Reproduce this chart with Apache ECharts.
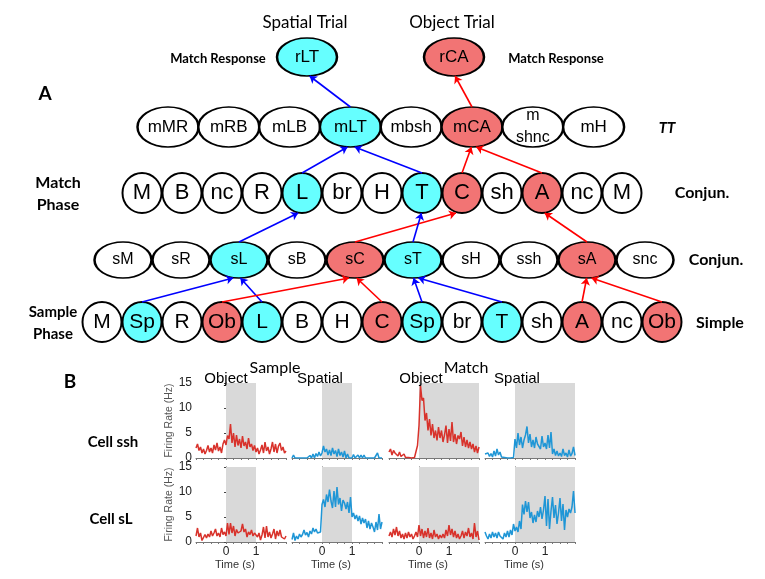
<!DOCTYPE html>
<html>
<head>
<meta charset="utf-8">
<script src="https://cdn.jsdelivr.net/npm/echarts@6/dist/echarts.min.js"></script>
<style>
html,body{margin:0;padding:0;background:#fff;}
#chart{width:765px;height:579px;}
</style>
</head>
<body>
<div id="chart"></div>
<script>
// ---------- DATA : Panel A (network of cells) ----------
// type: 0 = unselective, 1 = spatial (cyan), 2 = object (red)
const respLabels   = ['rLT', 'rCA'];
const respTypes    = [1, 2];
const ttLabels     = ['mMR', 'mRB', 'mLB', 'mLT', 'mbsh', 'mCA', 'm\nshnc', 'mH'];
const ttTypes      = [0, 0, 0, 1, 0, 2, 0, 0];
const matchLabels  = ['M', 'B', 'nc', 'R', 'L', 'br', 'H', 'T', 'C', 'sh', 'A', 'nc', 'M'];
const matchTypes   = [0, 0, 0, 0, 1, 0, 0, 1, 2, 0, 2, 0, 0];
const sconjLabels  = ['sM', 'sR', 'sL', 'sB', 'sC', 'sT', 'sH', 'ssh', 'sA', 'snc'];
const sconjTypes   = [0, 0, 1, 0, 2, 1, 0, 0, 2, 0];
const simpleLabels = ['M', 'Sp', 'R', 'Ob', 'L', 'B', 'H', 'C', 'Sp', 'br', 'T', 'sh', 'A', 'nc', 'Ob'];
const simpleTypes  = [0, 1, 0, 2, 1, 0, 0, 2, 1, 0, 1, 0, 2, 0, 2];
// connections: [fromRow, fromIndex, toRow, toIndex]
const edges = [
  ['simple', 1, 'sconj', 2], ['simple', 4, 'sconj', 2],
  ['simple', 3, 'sconj', 4], ['simple', 7, 'sconj', 4],
  ['simple', 8, 'sconj', 5], ['simple', 10, 'sconj', 5],
  ['simple', 12, 'sconj', 8], ['simple', 14, 'sconj', 8],
  ['sconj', 2, 'match', 4], ['sconj', 4, 'match', 8],
  ['sconj', 5, 'match', 7], ['sconj', 8, 'match', 10],
  ['match', 4, 'tt', 3], ['match', 7, 'tt', 3],
  ['match', 8, 'tt', 5], ['match', 10, 'tt', 5],
  ['tt', 3, 'resp', 0], ['tt', 5, 'resp', 1]
];

// ---------- DATA : Panel B (firing rates, Hz; bins of 0.05 s from -1 to 2 s) ----------
const sshSampleObject = [2.0,2.8,1.5,2.2,1.0,1.8,0.8,1.5,2.5,1.2,2.0,1.0,2.6,1.6,3.0,1.4,2.2,1.0,2.8,3.6,
  2.6,4.5,3.8,6.8,3.0,5.0,2.2,4.6,2.5,3.8,2.0,4.4,2.4,3.2,1.8,4.0,2.2,2.8,1.5,2.5,
  1.2,2.0,0.8,1.6,2.6,1.0,3.2,1.4,2.2,0.8,1.8,3.2,1.2,2.8,1.0,2.4,3.0,1.5,2.2,1.0,1.4];
const sshSampleSpatial = [0,0.6,0,0,0,0,0,0,0,0,0,0,0.5,0,0.8,0,0.9,0.3,1.2,0.4,
  1.0,2.4,1.2,1.8,0.6,1.6,0.5,2.0,0.8,1.5,0.3,1.8,0.5,1.2,0.2,1.4,0,0.8,0,0,
  0,0.7,0,0,0.6,0,0.6,0,0.6,0,0,0,0,0,0,0,0,1.0,0,0,0];
const sshMatchObject = [1.2,1.8,0.6,1.5,1.0,1.4,0.4,1.2,0.3,0.2,0.8,0.1,0.4,0.1,0.3,0.0,0.3,0.1,0.5,2.5,
  6.5,14.5,11.5,12.0,7.5,9.0,5.5,7.8,4.5,6.8,4.0,5.5,3.5,6.2,4.0,5.5,3.2,4.6,6.5,3.0,
  5.8,3.4,7.2,3.2,4.8,2.8,4.5,3.8,5.2,2.4,4.2,2.2,3.6,2.0,3.2,1.8,2.8,1.2,2.4,1.0,2.2];
const sshMatchSpatial = [0.8,0.4,1.0,0.3,0.9,0.2,1.4,0.4,1.8,0.6,1.2,0.2,0.6,0.1,0.3,0,0.2,0,0.3,0.1,
  3.8,2.0,5.0,2.6,4.2,2.0,3.6,4.6,6.3,3.0,4.8,2.2,3.6,2.0,4.2,2.8,3.2,1.8,4.4,2.2,
  3.0,1.8,4.6,2.0,5.2,0.8,1.8,0.5,1.4,0.4,1.0,0.3,1.8,0.5,1.0,0.2,1.6,0.4,0.9,2.2,0.5];
const sLSampleObject = [1.2,2.8,1.0,1.8,0.3,0.6,1.5,0.8,1.6,1.0,2.2,1.2,1.8,2.6,1.2,1.8,1.0,2.8,1.5,2.0,
  1.2,3.8,1.5,3.8,1.8,3.2,1.2,2.5,1.8,1.4,2.2,3.6,2.0,2.6,1.0,2.0,1.5,2.4,1.2,1.8,
  1.6,1.0,1.8,0.4,1.4,3.0,0.8,3.2,1.0,2.0,0.8,1.6,2.6,0.6,2.2,1.2,2.4,1.0,1.4,0.6,1.2];
const sLSampleSpatial = [0.5,1.8,0.3,1.2,0.6,1.6,1.0,1.5,2.4,1.4,1.9,1.0,2.2,1.6,2.8,2.0,2.6,1.8,2.2,2.0,
  7.5,8.5,7.0,9.5,8.0,10.5,8.2,6.8,10.2,7.0,11.0,7.5,8.8,6.2,8.4,7.8,6.6,8.0,5.8,9.0,
  5.0,5.8,4.6,5.4,4.2,5.2,3.6,4.8,3.8,4.6,2.8,4.2,2.6,3.8,3.0,2.0,4.0,2.4,5.6,2.6,4.0];
const sLMatchObject = [1.2,2.0,1.0,2.6,1.4,3.0,1.2,2.2,0.8,1.6,0.6,1.8,0.8,2.0,1.0,1.6,0.6,1.2,2.0,1.0,
  3.4,1.2,2.6,0.8,2.2,1.0,2.8,0.8,1.8,0.6,2.4,1.0,1.6,0.6,1.4,0.8,1.6,0.8,2.4,1.2,
  3.4,1.4,2.6,1.0,2.2,0.8,1.6,0.6,1.2,2.2,0.8,2.0,1.2,2.8,1.0,1.8,0.6,3.8,1.0,2.2,0.4];
const sLMatchSpatial = [2.0,1.2,0.6,1.6,0.8,2.0,1.0,1.8,0.8,2.0,1.2,1.6,0.6,1.8,1.0,2.2,1.0,2.4,1.4,3.6,
  2.2,3.0,2.0,4.2,2.6,7.5,5.5,8.2,6.0,8.0,4.8,6.0,3.8,5.4,4.0,6.2,5.0,7.0,4.6,6.4,
  9.2,3.2,8.6,2.6,6.2,9.0,4.8,7.4,3.6,5.8,8.8,4.2,7.6,2.4,6.4,5.0,6.6,5.8,7.0,10.2,5.8];
const sampleWindow = [0, 1];   // shaded stimulus period, s
const matchWindow  = [0, 2];
const timeStart = -1, timeEnd = 2, binWidth = 0.05;
const yTicks = [0, 5, 10, 15];
const xTickLabels = [0, 1];

// ---------- LAYOUT (positions / sizes / styles) ----------
const LAYOUT = {
  resp:   { y: 57,  xs: [307, 454], w: 60, h: 38, fs: 17, labels: respLabels,   types: respTypes },
  tt:     { y: 127, x0: 168, dx: 60.8, w: 61, h: 40, fs: 17, labels: ttLabels,     types: ttTypes },
  match:  { y: 193, x0: 142, dx: 40,   w: 39, h: 40, fs: 22, labels: matchLabels,  types: matchTypes },
  sconj:  { y: 260, x0: 123, dx: 58,   w: 57, h: 36, fs: 16, labels: sconjLabels,  types: sconjTypes },
  simple: { y: 322, x0: 102, dx: 40,   w: 39, h: 40, fs: 21, labels: simpleLabels, types: simpleTypes }
};
const typeColors = ['#ffffff', '#66ffff', '#f27474'];
const edgeColors = ['#000000', '#0000ff', '#ff0000'];
const RED = '#d8322b', BLUE = '#1f96d6', SHADE = '#d9d9d9';
const NODE_FONT = '"Liberation Sans Narrow", "Liberation Sans", Arial, sans-serif';

function nodePos(rowKey, i) {
  const r = LAYOUT[rowKey];
  return r.xs ? [r.xs[i], r.y] : [r.x0 + i * r.dx, r.y];
}

const series = [];
// nodes
Object.keys(LAYOUT).forEach(function (key) {
  const r = LAYOUT[key];
  series.push({
    type: 'scatter', xAxisIndex: 0, yAxisIndex: 0, z: 3,
    symbol: 'circle', silent: true,
    data: r.labels.map(function (lab, i) {
      return {
        name: lab, value: nodePos(key, i), symbolSize: [r.w, r.h],
        itemStyle: { color: typeColors[r.types[i]], borderColor: '#000', borderWidth: 2, opacity: 1 },
        label: lab.indexOf('\n') >= 0 ? { fontSize: 16, lineHeight: 22, padding: [4, 0, 0, 0] } : {}
      };
    }),
    label: {
      show: true, position: 'inside', formatter: '{b}', color: '#000',
      fontFamily: NODE_FONT, fontSize: r.fs, lineHeight: r.fs + 2
    }
  });
});
// arrows
series.push({
  type: 'lines', coordinateSystem: 'cartesian2d', xAxisIndex: 0, yAxisIndex: 0, z: 4,
  symbol: ['none', 'arrow'], symbolSize: 7, silent: true,
  data: edges.map(function (e) {
    const s = nodePos(e[0], e[1]), t = nodePos(e[2], e[3]);
    const sr = LAYOUT[e[0]], tr = LAYOUT[e[2]];
    const off = Math.max(-6, Math.min(6, (s[0] - t[0]) * 0.06));
    const col = edgeColors[sr.types[e[1]]];
    return {
      coords: [[s[0], s[1] - sr.h / 2], [t[0] + off, t[1] + tr.h / 2]],
      lineStyle: { color: col, width: 1.6, opacity: 1 }
    };
  })
});

// ---------- Panel B ----------
const times = [];
for (let i = 0; Math.round((timeStart + i * binWidth) * 100) <= timeEnd * 100; i++) {
  times.push(Math.round((timeStart + i * binWidth) * 100) / 100);
}
const panels = [
  { vals: sshSampleObject, color: RED,  win: sampleWindow, col: 0, row: 0 },
  { vals: sshSampleSpatial, color: BLUE, win: sampleWindow, col: 1, row: 0 },
  { vals: sshMatchObject,  color: RED,  win: matchWindow,  col: 2, row: 0 },
  { vals: sshMatchSpatial, color: BLUE, win: matchWindow,  col: 3, row: 0 },
  { vals: sLSampleObject,  color: RED,  win: sampleWindow, col: 0, row: 1 },
  { vals: sLSampleSpatial, color: BLUE, win: sampleWindow, col: 1, row: 1 },
  { vals: sLMatchObject,   color: RED,  win: matchWindow,  col: 2, row: 1 },
  { vals: sLMatchSpatial,  color: BLUE, win: matchWindow,  col: 3, row: 1 }
];
const colLeft = [196, 292, 389, 485];
const rowTop = [383, 467];
const grids = [{ left: 0, top: 0, width: 765, height: 579 }];
const xAxes = [{ gridIndex: 0, type: 'value', min: 0, max: 765, show: false }];
const yAxes = [{ gridIndex: 0, type: 'value', min: 0, max: 579, inverse: true, show: false }];

panels.forEach(function (p, k) {
  const gi = k + 1;
  grids.push({ left: colLeft[p.col], top: rowTop[p.row], width: 90, height: 75 });
  const bottom = p.row === 1;
  xAxes.push({
    gridIndex: gi, type: 'value', min: timeStart, max: timeEnd, interval: 0.25,
    axisLine: { show: true, lineStyle: { color: '#777', width: 1 } },
    axisTick: { show: true, length: 2, lineStyle: { color: '#777' } },
    splitLine: { show: false },
    axisLabel: {
      show: bottom, margin: 4, fontSize: 12, color: '#222', fontFamily: 'Liberation Sans, Arial',
      formatter: function (v) { return xTickLabels.indexOf(v) >= 0 ? String(v) : ''; }
    },
    name: bottom ? 'Time (s)' : '', nameLocation: 'middle', nameGap: 17,
    nameTextStyle: { fontSize: 11, color: '#333', fontFamily: 'Liberation Sans, Arial', padding: [0, 12, 0, 0] }
  });
  const first = p.col === 0;
  yAxes.push({
    gridIndex: gi, type: 'value', min: yTicks[0], max: yTicks[yTicks.length - 1], interval: 5,
    axisLine: { show: true, lineStyle: { color: '#444', width: 1 } },
    axisTick: { show: first, length: 2, lineStyle: { color: '#444' } },
    splitLine: { show: false },
    axisLabel: { show: first, margin: 4, fontSize: 12, color: '#222', fontFamily: 'Liberation Sans, Arial' },
    name: first ? 'Firing Rate (Hz)' : '', nameLocation: 'middle', nameGap: 20, nameRotate: 90,
    nameTextStyle: { fontSize: 10.5, color: '#555', fontFamily: 'Liberation Sans, Arial' }
  });
  series.push({
    type: 'line', xAxisIndex: gi, yAxisIndex: gi, showSymbol: false, silent: true,
    data: p.vals.map(function (v, i) { return [times[i], v]; }),
    lineStyle: { color: p.color, width: 1.5 }, itemStyle: { color: p.color },
    z: 2,
    markArea: {
      silent: true, itemStyle: { color: SHADE, opacity: 1 },
      data: [[{ xAxis: p.win[0] }, { xAxis: p.win[1] }]]
    }
  });
});

// ---------- Text ----------
function txt(text, x, y, font, align) {
  return { type: 'text', silent: true, z: 10,
    style: { text: text, x: x, y: y, font: font, textAlign: align || 'center', textVerticalAlign: 'middle', fill: '#000' } };
}
const BOLD = 'bold 13px Lato, "Open Sans", sans-serif';
const BIG = 'bold 16px Lato, "Open Sans", sans-serif';
const graphic = [
  txt('Spatial Trial', 305, 23, '17px Lato, "Open Sans", sans-serif'),
  txt('Object Trial', 452, 23, '17px Lato, "Open Sans", sans-serif'),
  txt('Match Response', 218, 59, BOLD),
  txt('Match Response', 556, 59, BOLD),
  txt('A', 45, 94, 'bold 19px Lato, "Open Sans", sans-serif'),
  txt('TT', 667, 128, 'italic bold 15px Lato, "Open Sans", sans-serif'),
  txt('Match', 58, 183, BIG),
  txt('Phase', 58, 205, BIG),
  txt('Conjun.', 702, 193, BIG),
  txt('Conjun.', 716, 260, BIG),
  txt('Sample', 53, 312, 'bold 15px Lato, "Open Sans", sans-serif'),
  txt('Phase', 53, 334, 'bold 15px Lato, "Open Sans", sans-serif'),
  txt('Simple', 720, 323, BIG),
  txt('B', 70, 382, 'bold 19px Lato, "Open Sans", sans-serif'),
  txt('Cell ssh', 113, 442, 'bold 15px Lato, "Open Sans", sans-serif'),
  txt('Cell sL', 111, 519, 'bold 15px Lato, "Open Sans", sans-serif'),
  txt('Sample', 275, 368, '16px Lato, "Open Sans", sans-serif'),
  txt('Match', 466, 368, '16px Lato, "Open Sans", sans-serif'),
  txt('Object', 226, 379, '15px "Liberation Sans", Arial, sans-serif'),
  txt('Spatial', 320, 379, '15px "Liberation Sans", Arial, sans-serif'),
  txt('Object', 421, 379, '15px "Liberation Sans", Arial, sans-serif'),
  txt('Spatial', 517, 379, '15px "Liberation Sans", Arial, sans-serif')
];

const chart = echarts.init(document.getElementById('chart'), null, { renderer: 'canvas' });
chart.setOption({
  animation: false,
  backgroundColor: '#ffffff',
  grid: grids, xAxis: xAxes, yAxis: yAxes,
  series: series, graphic: graphic
});
</script>
</body>
</html>
